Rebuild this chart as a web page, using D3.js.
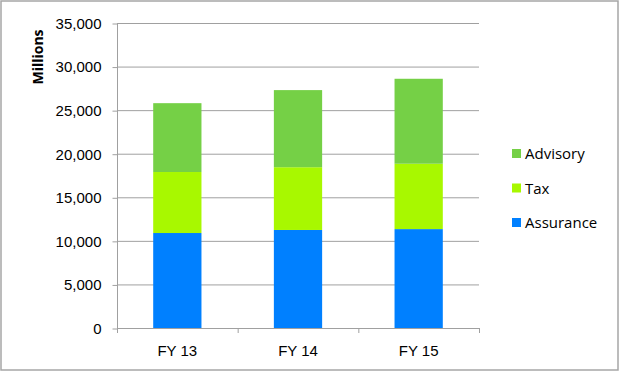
<!DOCTYPE html>
<html>
<head>
<meta charset="utf-8">
<script src="https://cdn.jsdelivr.net/npm/d3@7"></script>
<style>
  body { margin: 0; background: #fff; }
  svg { font-family: "Open Sans", "Liberation Sans", sans-serif; }
</style>
</head>
<body>
<div id="chart"></div>
<script>
// data (millions)
const years = ["FY 13", "FY 14", "FY 15"];
const seriesNames = ["Assurance", "Tax", "Advisory"];
const assurance = [10900, 11250, 11350];
const tax = [7000, 7200, 7500];
const advisory = [7900, 8850, 9750];
const yTicks = [0, 5000, 10000, 15000, 20000, 25000, 30000, 35000];

const colors = { Assurance: "#0080ff", Tax: "#a8f800", Advisory: "#75d046" };

const W = 620, H = 372;
const m = { left: 117, right: 141, top: 23, bottom: 44 };

let svg = d3.select("#chart").append("svg")
    .attr("width", W)
    .attr("height", H);

// outer frame
svg.append("rect")
    .attr("x", 1).attr("y", 1)
    .attr("width", W - 3).attr("height", H - 3)
    .attr("fill", "#fff")
    .attr("stroke", "#a6a6a6")
    .attr("stroke-width", 1.5);

let rows = years.map((y, i) => ({ year: y, Assurance: assurance[i], Tax: tax[i], Advisory: advisory[i] }));
let stacked = d3.stack().keys(seriesNames)(rows);

let x = d3.scaleBand().domain(years).range([m.left, W - m.right]).paddingInner(0.6).paddingOuter(0.3);
let y = d3.scaleLinear().domain([0, 35000]).range([H - m.bottom, m.top]);

// gridlines
svg.append("g").selectAll("line")
    .data(yTicks.slice(1))
    .enter().append("line")
    .attr("x1", m.left).attr("x2", W - m.right)
    .attr("y1", d => y(d) + 0.5).attr("y2", d => y(d) + 0.5)
    .attr("stroke", "#a0a0a0")
    .attr("stroke-width", 1);

// y axis
let yAxis = svg.append("g")
    .attr("transform", "translate(" + (m.left + 0.5) + ",0.5)")
    .call(d3.axisLeft(y).tickValues(yTicks).tickFormat(d3.format(",")).tickSize(5).tickPadding(11));
yAxis.select(".domain").attr("stroke", "#a0a0a0").attr("d", "M0," + m.top + "V" + (H - m.bottom));
yAxis.selectAll(".tick line").attr("stroke", "#a0a0a0");
yAxis.selectAll("text").attr("font-size", 15).attr("fill", "#000");

// x axis
let xAxis = svg.append("g")
    .attr("transform", "translate(0," + (H - m.bottom + 0.5) + ")")
    .call(d3.axisBottom(x).tickSize(0).tickPadding(17));
xAxis.select(".domain").attr("stroke", "#a0a0a0").attr("d", "M" + m.left + ",0H" + (W - m.right));
xAxis.selectAll("text").attr("font-size", 15).attr("fill", "#000");
// category separators
let step = (W - m.left - m.right) / years.length;
svg.append("g").selectAll("line")
    .data(d3.range(years.length + 1))
    .enter().append("line")
    .attr("x1", i => m.left + i * step + 0.5).attr("x2", i => m.left + i * step + 0.5)
    .attr("y1", H - m.bottom).attr("y2", H - m.bottom + 5)
    .attr("stroke", "#a0a0a0");

// bars
svg.append("g").selectAll("g")
    .data(stacked)
    .enter().append("g")
    .attr("fill", d => colors[d.key])
    .selectAll("rect")
    .data(d => d)
    .enter().append("rect")
    .attr("x", d => x(d.data.year))
    .attr("width", x.bandwidth())
    .attr("y", d => y(d[1]))
    .attr("height", d => y(d[0]) - y(d[1]));

// y title
svg.append("text")
    .attr("transform", "translate(43,57) rotate(-90)")
    .attr("text-anchor", "middle")
    .attr("font-size", 14)
    .attr("font-weight", "bold")
    .text("Millions");

// legend
let legendItems = ["Advisory", "Tax", "Assurance"];
let legend = svg.append("g").selectAll("g")
    .data(legendItems)
    .enter().append("g")
    .attr("transform", (d, i) => "translate(512," + (154 + i * 34.5) + ")");
legend.append("rect")
    .attr("x", 0).attr("y", -5)
    .attr("width", 9).attr("height", 9)
    .attr("fill", d => colors[d]);
legend.append("text")
    .attr("x", 13).attr("y", 0)
    .attr("dy", "0.35em")
    .attr("font-size", 15)
    .text(d => d);
</script>
</body>
</html>
